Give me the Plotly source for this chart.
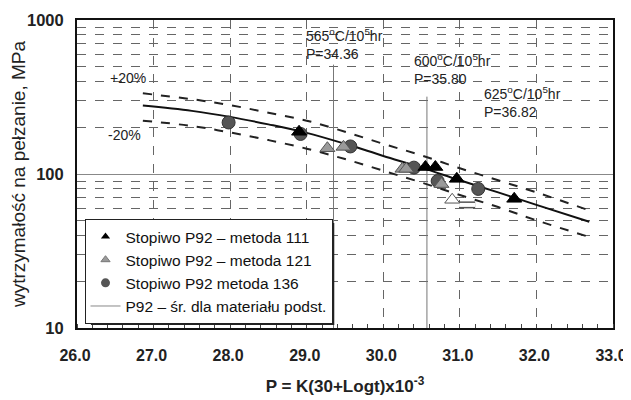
import plotly.graph_objects as go

# ---- data ----
curve_p = [26.86, 27.5, 28.0, 28.5, 29.0, 29.5, 30.0, 30.5, 31.0, 31.5, 32.0, 32.69]
curve_mean = [278, 257, 235, 210, 185, 157, 131, 110, 91, 76, 63, 49]
curve_upper = [334, 306, 280, 250, 222, 188, 157, 132, 109, 91, 76, 58]
curve_lower = [222, 205, 186, 166, 146, 125, 105, 88, 73, 61, 50, 39]

m111_p = [28.90, 30.55, 30.68, 30.96, 31.71]
m111_v = [188, 111, 111, 93, 69]

m121_p = [29.27, 29.48, 30.25, 30.30, 30.76]
m121_v = [147, 150, 108, 108, 86]

m136_p = [27.98, 28.92, 29.57, 30.40, 30.71, 31.24]
m136_v = [216, 182, 151, 110, 90, 80]

runout_p = [30.90]
runout_v = [68]
arrow_p = [30.99, 31.20]
arrow_v = [63, 63]

ref_p = [29.35, 30.57]
ref_top = [513, 318]

x_ticks = [26, 27, 28, 29, 30, 31, 32, 33]
x_tick_text = ["26.0", "27.0", "28.0", "29.0", "30.0", "31.0", "32.0", "33.0"]
y_ticks = [10, 100, 1000]
y_tick_text = ["10", "100", "1000"]

FONT = "Liberation Sans, Arial, sans-serif"

fig = go.Figure()

# reference vertical lines
for p, top in zip(ref_p, ref_top):
    fig.add_trace(go.Scatter(x=[p, p], y=[10, top], mode="lines",
                             line=dict(color="#777777", width=1),
                             showlegend=False, hoverinfo="skip"))

# band and mean curves
fig.add_trace(go.Scatter(x=curve_p, y=curve_upper, mode="lines", line_shape="spline",
                         line=dict(color="#222222", width=2, dash="dash"),
                         showlegend=False))
fig.add_trace(go.Scatter(x=curve_p, y=curve_lower, mode="lines", line_shape="spline",
                         line=dict(color="#222222", width=2, dash="dash"),
                         showlegend=False))
fig.add_trace(go.Scatter(x=curve_p, y=curve_mean, mode="lines", line_shape="spline",
                         line=dict(color="#111111", width=2),
                         showlegend=False))

# runout arrow
fig.add_trace(go.Scatter(x=arrow_p, y=arrow_v, mode="lines",
                         line=dict(color="#555555", width=7),
                         showlegend=False, hoverinfo="skip"))
fig.add_trace(go.Scatter(x=arrow_p, y=arrow_v, mode="lines",
                         line=dict(color="white", width=4),
                         showlegend=False, hoverinfo="skip"))

# data points
fig.add_trace(go.Scatter(x=m136_p, y=m136_v, mode="markers",
                         marker=dict(symbol="circle", size=13, color="#555555",
                                     line=dict(color="#333333", width=1)),
                         showlegend=False))
fig.add_trace(go.Scatter(x=m121_p, y=m121_v, mode="markers",
                         marker=dict(symbol="triangle-up", size=13, color="#9a9a9a",
                                     line=dict(color="#555555", width=1)),
                         showlegend=False))
fig.add_trace(go.Scatter(x=runout_p, y=runout_v, mode="markers",
                         marker=dict(symbol="triangle-up", size=13, color="white",
                                     line=dict(color="#555555", width=1)),
                         showlegend=False))
fig.add_trace(go.Scatter(x=m111_p, y=m111_v, mode="markers",
                         marker=dict(symbol="triangle-up", size=13, color="black",
                                     line=dict(color="black", width=1)),
                         showlegend=False))

# legend entries (small symbols as in the reference)
fig.add_trace(go.Scatter(x=[None], y=[None], mode="markers",
                         marker=dict(symbol="triangle-up", size=8, color="black"),
                         name="Stopiwo P92 – metoda 111"))
fig.add_trace(go.Scatter(x=[None], y=[None], mode="markers",
                         marker=dict(symbol="triangle-up", size=8, color="#9a9a9a",
                                     line=dict(color="#777777", width=1)),
                         name="Stopiwo P92 – metoda 121"))
fig.add_trace(go.Scatter(x=[None], y=[None], mode="markers",
                         marker=dict(symbol="circle", size=9, color="#555555"),
                         name="Stopiwo P92 metoda 136"))
fig.add_trace(go.Scatter(x=[None], y=[None], mode="lines",
                         line=dict(color="#888888", width=1),
                         name="P92 – śr. dla materiału podst."))

ann_font = dict(family=FONT, size=14, color="#222222")
annotations = [
    dict(x=28.97, y=2.846, text="565<sup>o</sup>C/10<sup>5</sup>hr<br>P=34.36"),
    dict(x=30.37, y=2.684, text="600<sup>o</sup>C/10<sup>5</sup>hr<br>P=35.80"),
    dict(x=31.29, y=2.466, text="625<sup>o</sup>C/10<sup>5</sup>hr<br>P=36.82"),
    dict(x=26.40, y=2.625, text="+20%"),
    dict(x=26.38, y=2.255, text="-20%"),
]
for a in annotations:
    a.update(xref="x", yref="y", xanchor="left", yanchor="middle", showarrow=False,
             align="left", font=ann_font, bgcolor="rgba(255,255,255,0)")

# page body adds an 8px offset; figure sized so plot area lands where the reference has it
fig.update_layout(
    width=623, height=392,
    margin=dict(l=69, r=18, t=12, b=72, autoexpand=False),
    paper_bgcolor="white", plot_bgcolor="white",
    font=dict(family=FONT, color="#111111"),
    annotations=annotations,
    legend=dict(x=0.014, y=0.354, xanchor="left", yanchor="top",
                bgcolor="white", bordercolor="#222222", borderwidth=1,
                font=dict(family=FONT, size=15.5, color="#111111"),
                itemsizing="trace", traceorder="normal", tracegroupgap=0),
    shapes=[dict(type="rect", xref="paper", yref="paper",
                 x0=0.026, x1=0.480, y0=0.010, y1=0.341,
                 fillcolor="#222222", line=dict(width=0), layer="above")],
    xaxis=dict(range=[26, 33], tickvals=x_ticks, ticktext=x_tick_text,
               automargin=False,
               showgrid=True, gridcolor="#666666", griddash="dash", gridwidth=1,
               ticks="", showline=True, linecolor="#111111", linewidth=2, mirror=True,
               tickfont=dict(family=FONT, size=16, weight="bold", color="#222222"),
               ticklabelstandoff=12, ticklabelshift=-2,
               minor=dict(dtick=0.2, ticks="inside", ticklen=4, tickcolor="#444444",
                          showgrid=False),
               title=dict(text="P = K(30+Logt)x10<sup>-3</sup>", standoff=17,
                          font=dict(family=FONT, size=17, weight="bold", color="#222222")),
               zeroline=False),
    yaxis=dict(type="log", range=[1, 3], tickvals=y_ticks, ticktext=y_tick_text,
               automargin=False,
               showgrid=True, gridcolor="#888888", gridwidth=1,
               ticks="", showline=True, linecolor="#111111", linewidth=2, mirror=True,
               tickfont=dict(family=FONT, size=16.5, weight="bold", color="#222222"),
               ticklabelstandoff=8,
               minor=dict(dtick="D1", showgrid=True, gridcolor="#666666",
                          griddash="dash", gridwidth=1, ticks=""),
               title=dict(text="wytrzymałość na pełzanie, MPa", standoff=8,
                          font=dict(family=FONT, size=19, color="#222222")),
               zeroline=False),
)

fig.write_html("out.html")
